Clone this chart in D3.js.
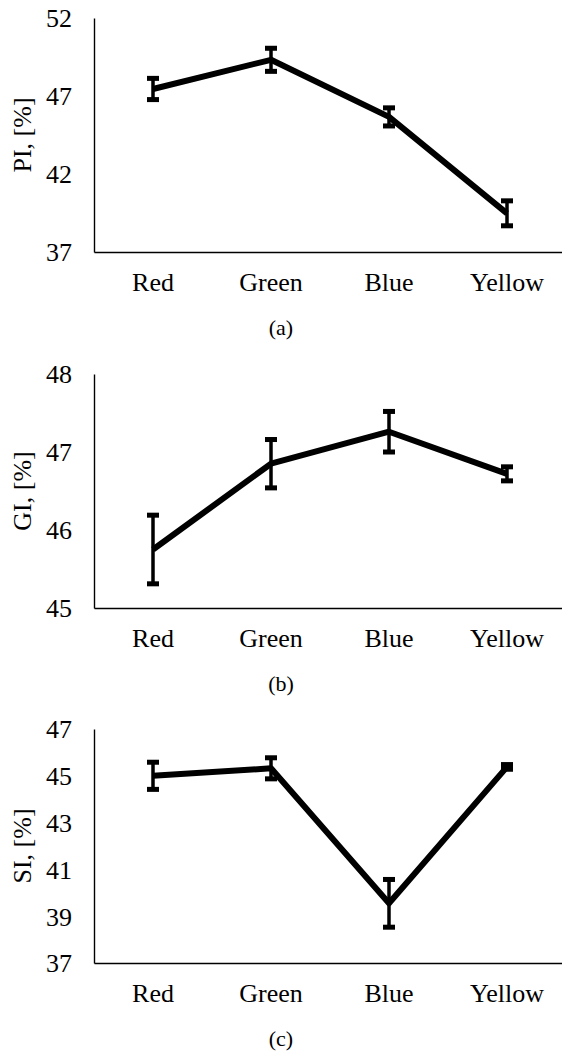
<!DOCTYPE html>
<html>
<head>
<meta charset="utf-8">
<script src="https://cdn.jsdelivr.net/npm/d3@7"></script>
<style>
  body { margin: 0; background: #fff; }
  svg text { font-family: "Liberation Serif", "DejaVu Serif", serif; fill: #000; }
</style>
</head>
<body>
<script>
var width = 562;
var height = 1053;

// data
var categories = ["Red", "Green", "Blue", "Yellow"];

var piValues = [47.45, 49.32, 45.66, 39.48];
var piErrors = [0.68, 0.74, 0.58, 0.8];
var piTicks = [37, 42, 47, 52];

var giValues = [45.75, 46.85, 47.26, 46.72];
var giErrors = [0.44, 0.31, 0.26, 0.09];
var giTicks = [45, 46, 47, 48];

var siValues = [45.0, 45.32, 39.55, 45.38];
var siErrors = [0.58, 0.45, 1.02, 0.1];
var siTicks = [37, 39, 41, 43, 45, 47];

var panelTitles = ["PI, [%]", "GI, [%]", "SI, [%]"];
var captions = ["(a)", "(b)", "(c)"];

var panels = [
    {values: piValues, errors: piErrors, ticks: piTicks, top: 18},
    {values: giValues, errors: giErrors, ticks: giTicks, top: 374},
    {values: siValues, errors: siErrors, ticks: siTicks, top: 729}
];

var left = 94;
var plotH = 234;
var step = 118;
var serif = 'Liberation Serif, DejaVu Serif, serif';

let svg = d3.select('body')
    .append('svg')
        .attr('width', width)
        .attr('height', height);

var xScale = d3.scaleBand()
    .domain(categories)
    .range([left, left + step * categories.length])
    .padding(0);

panels.forEach(function(p, i) {
    var ticks = p.ticks;
    var yScale = d3.scaleLinear()
        .domain([ticks[0], ticks[ticks.length - 1]])
        .range([p.top + plotH, p.top]);

    var g = svg.append('g').attr('class', 'panel');

    // y axis: line only, labels at the left
    var yAxis = d3.axisLeft(yScale)
        .tickValues(ticks)
        .tickSize(0)
        .tickPadding(22)
        .tickFormat(d3.format('d'));
    var ya = g.append('g')
        .attr('transform', 'translate(' + left + ',0)')
        .call(yAxis)
        .attr('font-family', serif)
        .attr('font-size', 26);
    ya.select('.domain').attr('stroke', '#000').attr('stroke-width', 1.4);
    ya.selectAll('text').attr('dy', '0.34em');

    // x axis
    var xAxis = d3.axisBottom(xScale)
        .tickSize(0)
        .tickPadding(21);
    var xa = g.append('g')
        .attr('transform', 'translate(0,' + (p.top + plotH) + ')')
        .call(xAxis)
        .attr('font-family', serif)
        .attr('font-size', 26);
    xa.select('.domain').attr('stroke', '#000').attr('stroke-width', 1.4);

    // y title
    g.append('text')
        .attr('transform', 'translate(31,' + (p.top + plotH / 2) + ') rotate(-90)')
        .attr('text-anchor', 'middle')
        .attr('font-size', 26)
        .text(panelTitles[i]);

    // caption
    g.append('text')
        .attr('x', width / 2)
        .attr('y', p.top + plotH + 75)
        .attr('dy', '0.35em')
        .attr('text-anchor', 'middle')
        .attr('font-size', 22)
        .text(captions[i]);

    var pts = categories.map(function(c, k) {
        return {cat: c, v: p.values[k], e: p.errors[k]};
    });

    var line = d3.line()
        .x(d => xScale(d.cat) + xScale.bandwidth() / 2)
        .y(d => yScale(d.v));

    g.append('path')
        .datum(pts)
        .attr('fill', 'none')
        .attr('stroke', '#000')
        .attr('stroke-width', 6)
        .attr('stroke-linejoin', 'round')
        .attr('d', line);

    // error bars
    var eb = g.selectAll('.err')
        .data(pts)
        .enter().append('g')
        .attr('class', 'err');
    eb.append('line')
        .attr('x1', d => xScale(d.cat) + xScale.bandwidth() / 2)
        .attr('x2', d => xScale(d.cat) + xScale.bandwidth() / 2)
        .attr('y1', d => yScale(d.v + d.e))
        .attr('y2', d => yScale(d.v - d.e))
        .attr('stroke', '#000')
        .attr('stroke-width', 3.5);
    [1, -1].forEach(function(s) {
        eb.append('rect')
            .attr('x', d => xScale(d.cat) + xScale.bandwidth() / 2 - 6)
            .attr('y', d => yScale(d.v + s * d.e) - 2.5)
            .attr('width', 12)
            .attr('height', 5)
            .attr('fill', '#000');
    });
});
</script>
</body>
</html>
